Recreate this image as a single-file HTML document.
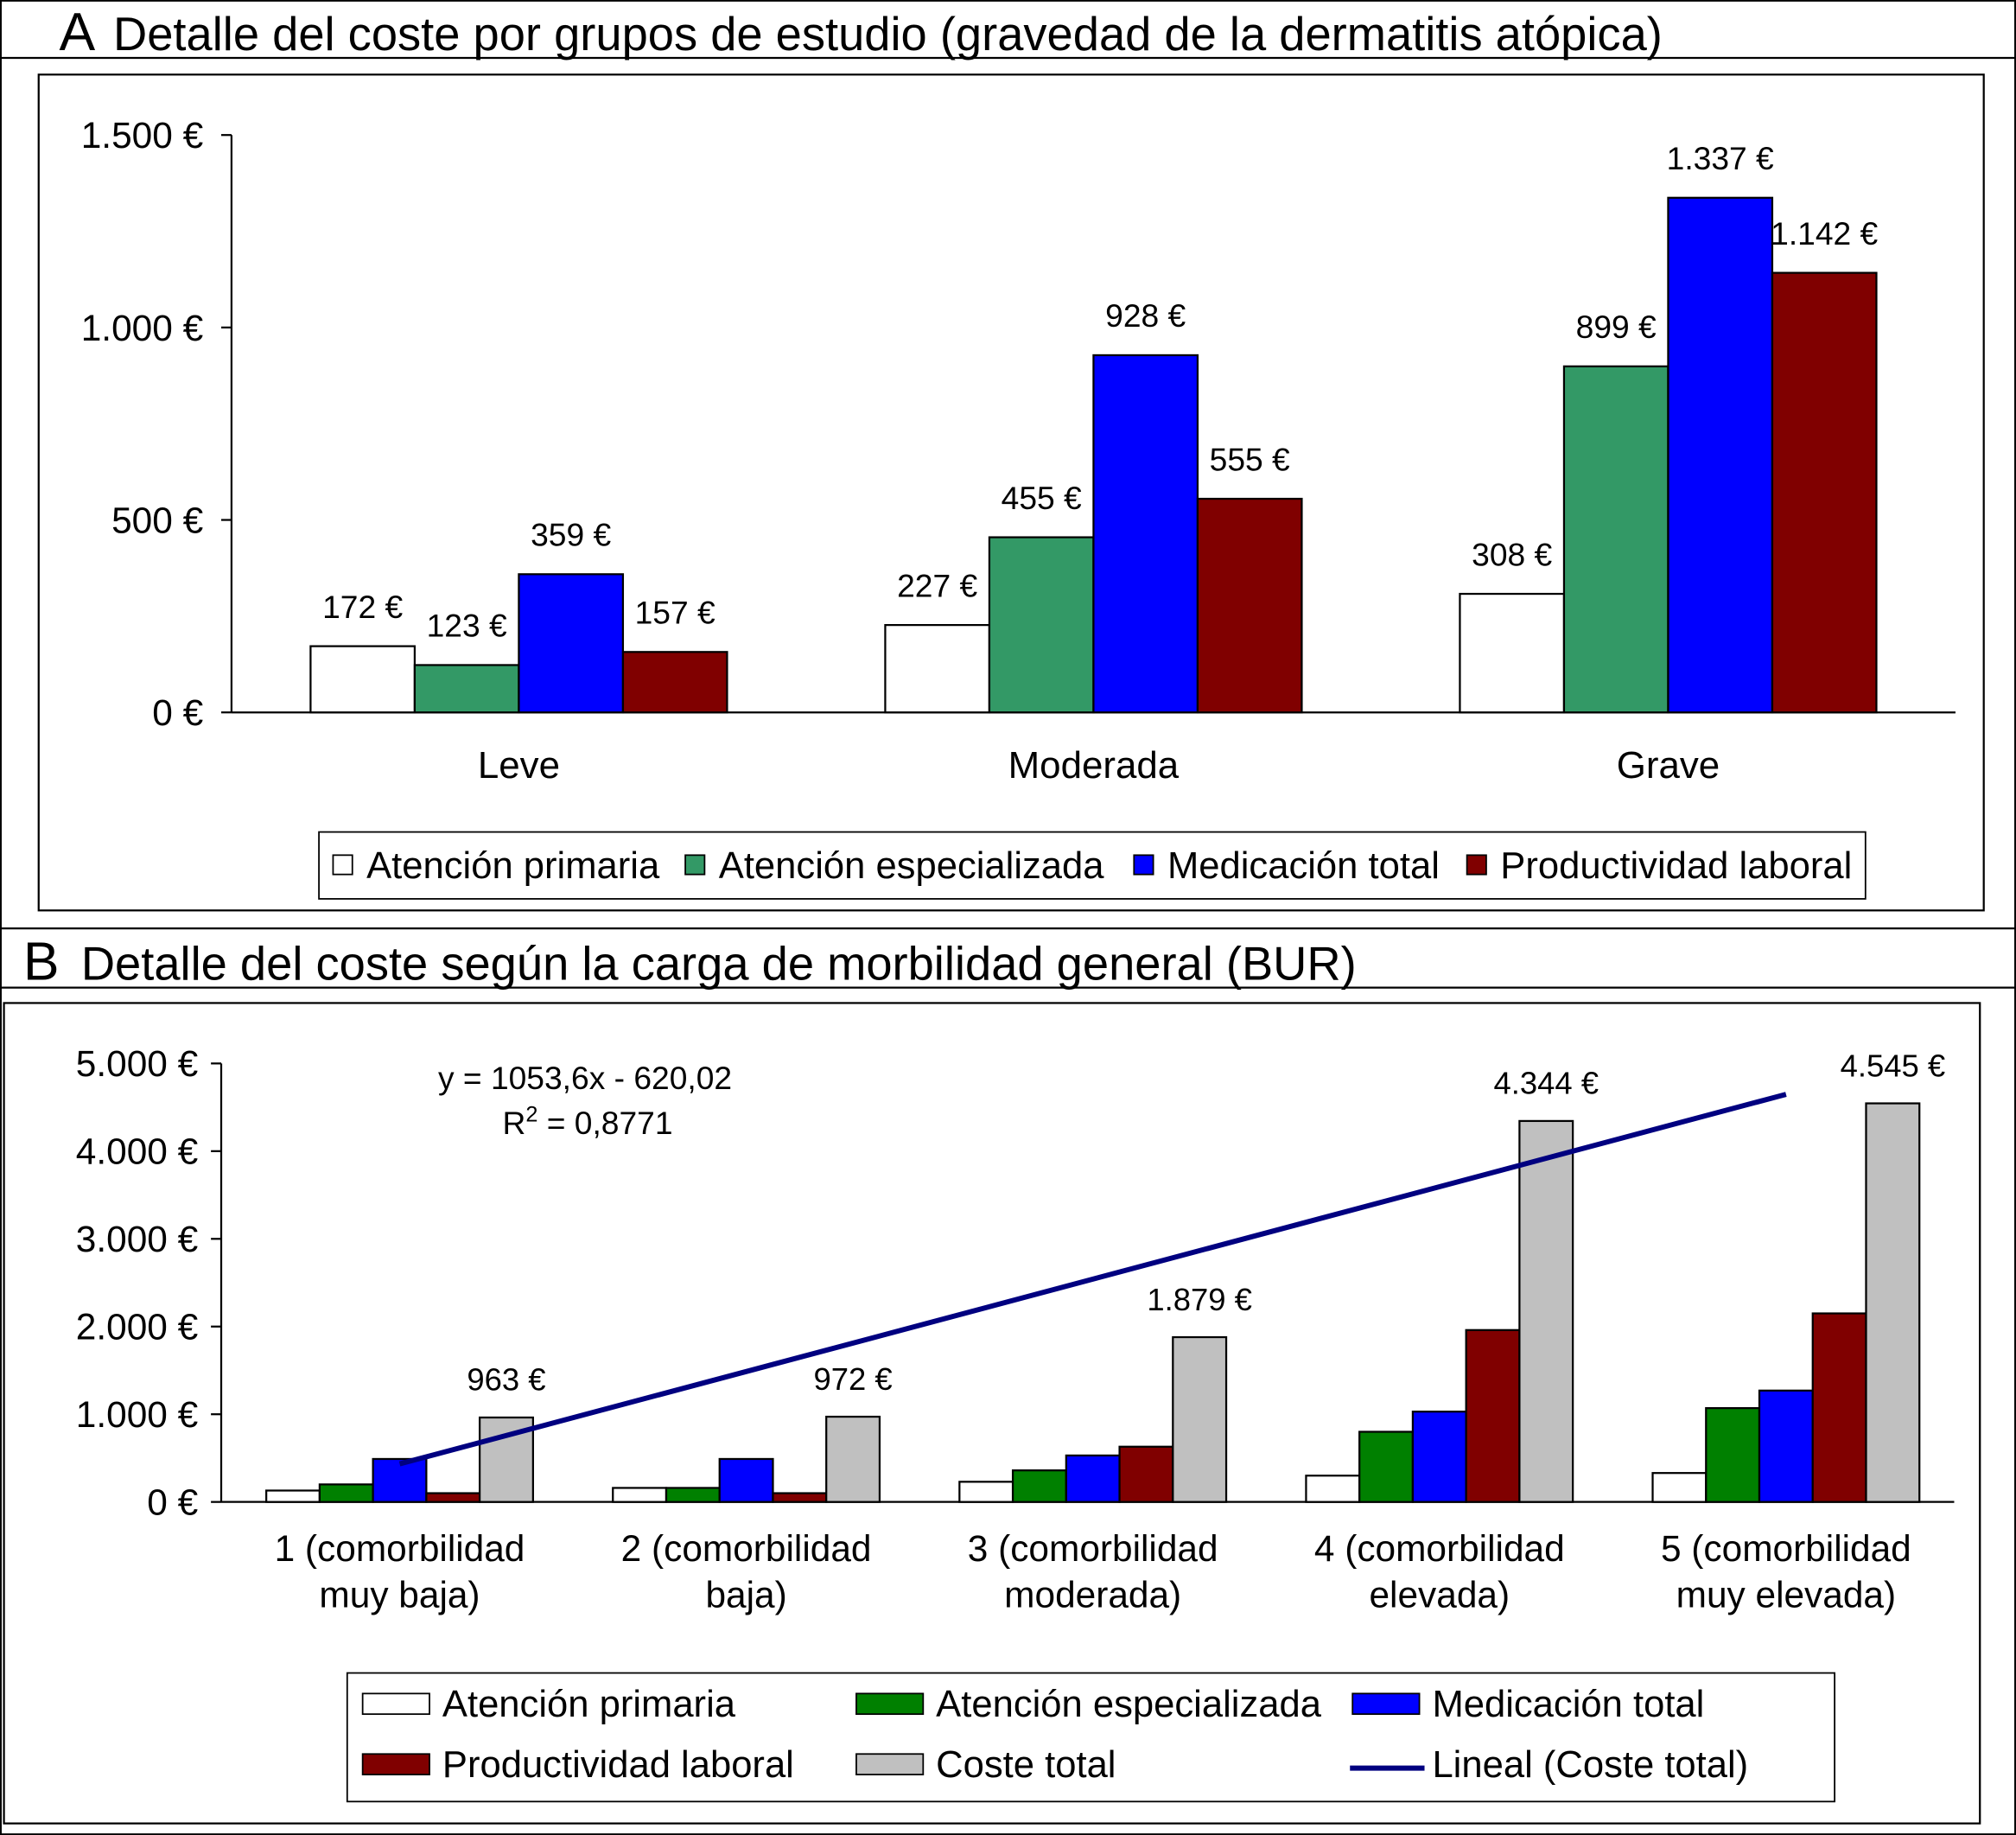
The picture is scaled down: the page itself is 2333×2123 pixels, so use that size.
<!DOCTYPE html>
<html><head><meta charset="utf-8"><style>
html,body{margin:0;padding:0;background:#fff}
svg{display:block;font-family:"Liberation Sans",Arial,sans-serif}
</style></head><body>
<svg id="s" width="2333" height="2123" viewBox="0 0 1568 1427" xmlns="http://www.w3.org/2000/svg">
<rect x="0.5" y="0.5" width="1567" height="1426" fill="#fff" stroke="#000" stroke-width="1.5"/>
<line x1="0" y1="45" x2="1568" y2="45" stroke="#000" stroke-width="1.5"/>
<text x="46" y="39" font-size="42">A</text>
<text x="88" y="39" font-size="36.5">Detalle del coste por grupos de estudio (gravedad de la dermatitis atópica)</text>
<rect x="30" y="58" width="1513" height="650" fill="none" stroke="#000" stroke-width="1.5"/>
<line x1="0" y1="722" x2="1568" y2="722" stroke="#000" stroke-width="1.5"/>
<line x1="0" y1="768" x2="1568" y2="768" stroke="#000" stroke-width="1.5"/>
<text x="18" y="762" font-size="42">B</text>
<text x="63" y="762" font-size="36.5">Detalle del coste según la carga de morbilidad general (BUR)</text>
<rect x="3" y="780" width="1537" height="638" fill="none" stroke="#000" stroke-width="1.5"/>
<g id="ga"></g><g id="gb"></g>
</svg>
<script>
// Panel A data
const catsA = ["Leve","Moderada","Grave"];
const apA = [172,227,308];
const aeA = [123,455,899];
const medA = [359,928,1337];
const prodA = [157,555,1142];
const labelsA = [["172 €","123 €","359 €","157 €"],["227 €","455 €","928 €","555 €"],["308 €","899 €","1.337 €","1.142 €"]];
const ticksA = [0,500,1000,1500];
const tickLabelsA = ["0 €","500 €","1.000 €","1.500 €"];
// Panel B data
const catsB = [["1 (comorbilidad","muy baja)"],["2 (comorbilidad","baja)"],["3 (comorbilidad","moderada)"],["4 (comorbilidad","elevada)"],["5 (comorbilidad","muy elevada)"]];
const apB = [130,160,230,300,330];
const aeB = [200,160,360,800,1070];
const medB = [490,490,530,1030,1270];
const prodB = [100,100,630,1960,2150];
const totB = [963,972,1879,4344,4545];
const totLabelsB = ["963 €","972 €","1.879 €","4.344 €","4.545 €"];
const ticksB = [0,1000,2000,3000,4000,5000];
const tickLabelsB = ["0 €","1.000 €","2.000 €","3.000 €","4.000 €","5.000 €"];
const trendSlope = 1053.6, trendIntercept = -620.02;

const NS="http://www.w3.org/2000/svg";
function mk(parent,tag,attrs,text){const e=document.createElementNS(NS,tag);for(const k in attrs)e.setAttribute(k,attrs[k]);if(text!==undefined)e.textContent=text;parent.appendChild(e);return e;}

// ---- Panel A
const ga=document.getElementById('ga');
const A={x0:180,x1:1521,y0:554,y1:105,max:1500};
const yA=v=>A.y0-(v/A.max)*(A.y0-A.y1);
const gwA=(A.x1-A.x0)/catsA.length, bwA=81;
const colA=["#ffffff","#339966","#0000ff","#800000"];
const serA=[apA,aeA,medA,prodA];
const nameA=["atencion-primaria","atencion-especializada","medicacion-total","productividad-laboral"];
mk(ga,'line',{x1:A.x0,y1:A.y1,x2:A.x0,y2:A.y0,stroke:'#000','stroke-width':1.5});
mk(ga,'line',{x1:A.x0,y1:A.y0,x2:A.x1,y2:A.y0,stroke:'#000','stroke-width':1.5});
ticksA.forEach((t,i)=>{const y=yA(t);
 mk(ga,'line',{x1:A.x0-8,y1:y,x2:A.x0,y2:y,stroke:'#000','stroke-width':1.5});
 const tl=mk(ga,'text',{x:A.x0-22,y:y+10,'font-size':28.5,'text-anchor':'end'},tickLabelsA[i]);
 
 
});
catsA.forEach((c,i)=>{const cx=A.x0+gwA*(i+0.5);const start=cx-bwA*2;
 serA.forEach((s,j)=>{const x=start+j*bwA,y=yA(s[i]);
  const r=mk(ga,'rect',{x:x,y:y,width:bwA,height:A.y0-y,fill:colA[j],stroke:'#000','stroke-width':1.5});
  
  
  const t=mk(ga,'text',{x:x+bwA/2,y:y-22,'font-size':25,'text-anchor':'middle'},labelsA[i][j]);
  
  
 });
 const cl=mk(ga,'text',{x:cx,y:605,'font-size':29.5,'text-anchor':'middle'},c);
 
 
});
// legend A
const lgA=mk(ga,'g',{});


mk(lgA,'rect',{x:248,y:647,width:1203,height:52,fill:'#fff',stroke:'#000','stroke-width':1.2});
const legA=[["Atención primaria",259],["Atención especializada",533],["Medicación total",882],["Productividad laboral",1141]];
legA.forEach((l,j)=>{mk(lgA,'rect',{x:l[1],y:665,width:15,height:15,fill:colA[j],stroke:'#000','stroke-width':1.2});
 const t=mk(lgA,'text',{x:l[1]+26,y:683,'font-size':29.3},l[0]);
 
 });

// ---- Panel B
const gb=document.getElementById('gb');
const B={x0:172,x1:1520,y0:1168,y1:827,max:5000};
const yB=v=>B.y0-(v/B.max)*(B.y0-B.y1);
const gwB=(B.x1-B.x0)/catsB.length, bwB=41.5;
const colB=["#ffffff","#008000","#0000ff","#800000","#c0c0c0"];
const serB=[apB,aeB,medB,prodB,totB];
const nameB=["atencion-primaria","atencion-especializada","medicacion-total","productividad-laboral","coste-total"];
mk(gb,'line',{x1:B.x0,y1:B.y1,x2:B.x0,y2:B.y0,stroke:'#000','stroke-width':1.5});
mk(gb,'line',{x1:B.x0,y1:B.y0,x2:B.x1,y2:B.y0,stroke:'#000','stroke-width':1.5});
ticksB.forEach((t,i)=>{const y=yB(t);
 mk(gb,'line',{x1:B.x0-8,y1:y,x2:B.x0,y2:y,stroke:'#000','stroke-width':1.5});
 const tl=mk(gb,'text',{x:B.x0-18,y:y+10,'font-size':28.5,'text-anchor':'end'},tickLabelsB[i]);
 
 
});
const cxB=i=>B.x0+gwB*(i+0.5)+4;
catsB.forEach((c,i)=>{const cx=cxB(i);const start=cx-bwB*2.5;
 serB.forEach((s,j)=>{const x=start+j*bwB,y=yB(s[i]);
  const r=mk(gb,'rect',{x:x,y:y,width:bwB,height:B.y0-y,fill:colB[j],stroke:'#000','stroke-width':1.5});
  
  
 });
 const t=mk(gb,'text',{x:start+4.5*bwB,y:yB(totB[i])-21,'font-size':24.5,'text-anchor':'middle'},totLabelsB[i]);
 
 
 c.forEach((ln,k)=>{const cl=mk(gb,'text',{x:cx,y:1214+k*36,'font-size':28.5,'text-anchor':'middle'},ln);
  
  });
});
// trend line
const tl=mk(gb,'line',{x1:cxB(0),y1:yB(trendSlope*1+trendIntercept),x2:cxB(4),y2:yB(trendSlope*5+trendIntercept),stroke:'#000080','stroke-width':4});


const eq=mk(gb,'text',{x:455,y:847,'font-size':25,'text-anchor':'middle'},'y = 1053,6x - 620,02');


const r2=mk(gb,'text',{x:457,y:882,'font-size':25,'text-anchor':'middle'});


r2.innerHTML='R<tspan dy="-10" font-size="17">2</tspan><tspan dy="10"> = 0,8771</tspan>';
// legend B
const lgB=mk(gb,'g',{});


mk(lgB,'rect',{x:270,y:1301,width:1157,height:100,fill:'#fff',stroke:'#000','stroke-width':1.2});
const legB=[["Atención primaria",282,1325,0],["Atención especializada",666,1325,1],["Medicación total",1052,1325,2],["Productividad laboral",282,1372,3],["Coste total",666,1372,4]];
legB.forEach(l=>{mk(lgB,'rect',{x:l[1],y:l[2]-8,width:52,height:16,fill:colB[l[3]],stroke:'#000','stroke-width':1.2});
 const t=mk(lgB,'text',{x:l[1]+62,y:l[2]+10,'font-size':29.3},l[0]);
 
 });
mk(lgB,'line',{x1:1050,y1:1375,x2:1108,y2:1375,stroke:'#000080','stroke-width':4});
const lt=mk(lgB,'text',{x:1114,y:1382,'font-size':29.3},'Lineal (Coste total)');


</script>
</body></html>
